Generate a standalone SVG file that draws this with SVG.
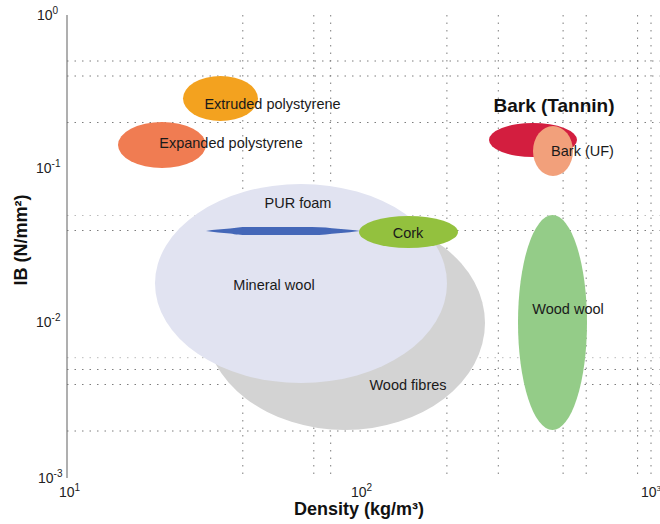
<svg xmlns="http://www.w3.org/2000/svg" width="660" height="524" viewBox="0 0 660 524">
<style>
.grid{stroke:#7d7d7d;stroke-width:1;stroke-dasharray:1.5 6;fill:none}
.lbl{font-family:"Liberation Sans",Arial,sans-serif;font-size:14.5px;fill:#1a1a1a;text-anchor:middle}
.tick{font-family:"Liberation Sans",Arial,sans-serif;font-size:14px;fill:#222}
.sup{font-size:10px}
.axt{font-family:"Liberation Sans",Arial,sans-serif;font-size:18px;font-weight:bold;fill:#111;text-anchor:middle}
</style>
<rect width="660" height="524" fill="#fff"/>
<g id="grid" class="grid">
<line x1="242.8" y1="15" x2="242.8" y2="478"/>
<line x1="313.8" y1="15" x2="313.8" y2="478"/>
<line x1="330.7" y1="15" x2="330.7" y2="478"/>
<line x1="446.9" y1="15" x2="446.9" y2="478"/>
<line x1="498.3" y1="15" x2="498.3" y2="478"/>
<line x1="563.1" y1="15" x2="563.1" y2="478"/>
<line x1="586.2" y1="15" x2="586.2" y2="478"/>
<line x1="637.6" y1="15" x2="637.6" y2="478"/>
<line x1="651" y1="15" x2="651" y2="478"/>
<line x1="67" y1="61" x2="660" y2="61"/>
<line x1="67" y1="76" x2="660" y2="76"/>
<line x1="67" y1="122.5" x2="660" y2="122.5"/>
<line x1="67" y1="215.5" x2="660" y2="215.5" stroke="#bbb"/>
<line x1="67" y1="230.5" x2="660" y2="230.5"/>
<line x1="67" y1="357.7" x2="660" y2="357.7" stroke="#bbb"/>
<line x1="67" y1="369.5" x2="660" y2="369.5"/>
<line x1="67" y1="384.5" x2="660" y2="384.5"/>
<line x1="67" y1="431" x2="660" y2="431"/>
</g>
<g id="axes">
<line x1="67" y1="15" x2="67" y2="478" stroke="#7a7a7a" stroke-width="1.2"/>
<text class="tick" x="37" y="20">10<tspan class="sup" dy="-6">0</tspan></text>
<text class="tick" x="36" y="173">10<tspan class="sup" dy="-6">-1</tspan></text>
<text class="tick" x="36" y="327">10<tspan class="sup" dy="-6">-2</tspan></text>
<text class="tick" x="38" y="483">10<tspan class="sup" dy="-6">-3</tspan></text>
<text class="tick" x="59" y="497">10<tspan class="sup" dy="-6">1</tspan></text>
<text class="tick" x="351" y="497">10<tspan class="sup" dy="-6">2</tspan></text>
<text class="tick" x="641" y="497">10<tspan class="sup" dy="-6" style="font-size:8px">3</tspan></text>
<text class="axt" x="359" y="515">Density (kg/m³)</text>
<text class="axt" transform="translate(27,240) rotate(-90)">IB (N/mm²)</text>
</g>
<g id="wood-fibres">
<ellipse cx="345" cy="323" rx="140" ry="107" fill="#d3d3d3"/>
<text class="lbl" x="408" y="390">Wood fibres</text>
</g>
<g id="mineral-wool">
<ellipse cx="301" cy="283.5" rx="146" ry="99.5" fill="#e1e3f1"/>
<text class="lbl" x="274" y="290">Mineral wool</text>
</g>
<g id="pur-foam">
<path d="M206,231 C214,229.8 222,229.3 230,228.6 C236,227.6 240,227 248,227 L312,227 C322,227 330,228 338,228.8 C346,229.5 354,230.2 360,231 C354,231.8 346,232.5 338,233.2 C330,234 322,235 312,235 L248,235 C240,235 236,234.4 230,233.4 C222,232.7 214,232.2 206,231 Z" fill="#4467b8"/>
<text class="lbl" x="298" y="208">PUR foam</text>
</g>
<g id="cork">
<ellipse cx="408.5" cy="232" rx="49.5" ry="16" fill="#93c13e"/>
<text class="lbl" x="408" y="238">Cork</text>
</g>
<g id="extruded-polystyrene">
<ellipse cx="220.5" cy="98.5" rx="37.5" ry="22.5" fill="#f3a21f"/>
<text class="lbl" x="272.5" y="109">Extruded polystyrene</text>
</g>
<g id="expanded-polystyrene">
<ellipse cx="162" cy="145" rx="44" ry="23" fill="#f07c52"/>
<text class="lbl" x="231" y="148">Expanded polystyrene</text>
</g>
<g id="bark-tannin">
<ellipse cx="533" cy="140" rx="44" ry="17" fill="#d31e3f"/>
<text class="axt" x="554" y="112" style="font-size:19px">Bark (Tannin)</text>
</g>
<g id="bark-uf">
<ellipse cx="553" cy="151" rx="20" ry="25" fill="#f2a07b"/>
<text class="lbl" x="582.5" y="156">Bark (UF)</text>
</g>
<g id="wood-wool">
<ellipse cx="552.5" cy="322.5" rx="34.5" ry="107.5" fill="#94cc88"/>
<text class="lbl" x="568" y="314">Wood wool</text>
</g>
<g id="connectors"/>
</svg>
